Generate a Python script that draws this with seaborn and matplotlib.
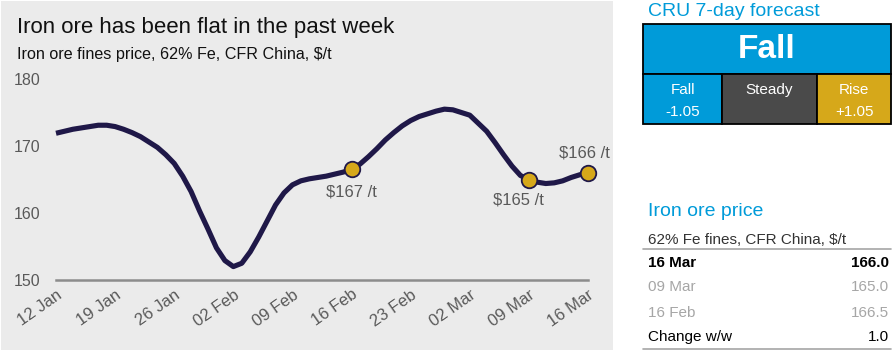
import matplotlib
matplotlib.use("Agg")
import matplotlib.pyplot as plt
from matplotlib.patches import Rectangle
import pandas as pd
import seaborn as sns

# ---- data ----
start_date = "2023-01-12"
prices = [171.9, 172.2, 172.5, 172.7, 172.9, 173.1, 173.1, 172.9, 172.5, 172.0,
          171.4, 170.6, 169.8, 168.7, 167.4, 165.5, 163.2, 160.3, 157.6, 154.8,
          152.9, 152.0, 152.5, 154.2, 156.4, 158.8, 161.2, 163.0, 164.2, 164.8,
          165.1, 165.3, 165.5, 165.8, 166.1, 166.5, 167.3, 168.4, 169.6, 170.9,
          172.0, 173.0, 173.8, 174.4, 174.8, 175.2, 175.5, 175.4, 175.0, 174.6,
          173.4, 172.2, 170.5, 168.7, 167.0, 165.6, 165.0, 164.6, 164.4, 164.5,
          164.8, 165.3, 165.7, 166.0]

marker_dates = ["2023-02-16", "2023-03-09", "2023-03-16"]
marker_prices = [166.5, 165.0, 166.0]
marker_labels = ["$167 /t", "$165 /t", "$166 /t"]

tick_dates = ["2023-01-12", "2023-01-19", "2023-01-26", "2023-02-02", "2023-02-09",
              "2023-02-16", "2023-02-23", "2023-03-02", "2023-03-09", "2023-03-16"]
tick_labels = ["12 Jan", "19 Jan", "26 Jan", "02 Feb", "09 Feb",
               "16 Feb", "23 Feb", "02 Mar", "09 Mar", "16 Mar"]
y_ticks = [150, 160, 170, 180]

forecast_cells = ["Fall", "Steady", "Rise"]
forecast_values = ["-1.05", "", "+1.05"]
forecast_call = "Fall"

table_rows = ["16 Mar", "09 Mar", "16 Feb", "Change w/w"]
table_vals = ["166.0", "165.0", "166.5", "1.0"]

# ---- style ----
sns.set_theme(style="white")
plt.rcParams['font.family'] = ['Liberation Sans', 'DejaVu Sans']

W, H = 893, 359
fig = plt.figure(figsize=(W / 100, H / 100), dpi=100)
fig.patch.set_facecolor("white")

def fx(px):
    return px / W

def fy(py):
    return 1 - py / H

NAVY = "#1f1848"
GOLD = "#d6a81a"
BLUE = "#009bd9"
DGREY = "#4a4a4a"
TGREY = "#595959"

# grey panel background
fig.patches.append(Rectangle((fx(1), fy(350)), fx(612), 349 / H, transform=fig.transFigure,
                             facecolor="#ebebeb", edgecolor="none", zorder=-5))

fig.text(fx(17), fy(27), "Iron ore has been flat in the past week", fontsize=16,
         color="#111111", va="center", ha="left")
fig.text(fx(17), fy(55), "Iron ore fines price, 62% Fe, CFR China, $/t", fontsize=11.6,
         color="#111111", va="center", ha="left")

# main axes
ax = fig.add_axes([fx(56), fy(280), fx(588 - 56), (280 - 79) / H])
ax.set_zorder(2)
ax.set_facecolor("none")
df = pd.DataFrame({"date": pd.date_range(start_date, periods=len(prices), freq="D"),
                   "price": prices})
mdf = pd.DataFrame({"date": pd.to_datetime(marker_dates), "price": marker_prices})
sns.lineplot(data=df, x="date", y="price", ax=ax, color=NAVY, linewidth=3.7,
             solid_capstyle="butt", solid_joinstyle="round", zorder=3)
sns.scatterplot(data=mdf, x="date", y="price", ax=ax, color=GOLD, s=125,
                edgecolor=NAVY, linewidth=1.3, zorder=4, clip_on=False)
for l in ax.lines:
    l.set_clip_on(False)

ax.set_xlim(pd.Timestamp(tick_dates[0]), pd.Timestamp(tick_dates[-1]))
ax.set_ylim(150, 180)
ax.set_yticks(y_ticks)
ax.set_yticklabels([str(v) for v in y_ticks])
ax.set_xticks(pd.to_datetime(tick_dates))
ax.set_xticklabels(tick_labels, rotation=35, ha="right", rotation_mode="anchor")
ax.tick_params(axis="y", length=0, pad=11, labelsize=11.5, labelcolor=TGREY)
ax.tick_params(axis="x", length=0, pad=5, labelsize=12, labelcolor=TGREY)
ax.set_xlabel("")
ax.set_ylabel("")
for s in ["top", "right", "left"]:
    ax.spines[s].set_visible(False)
ax.spines["bottom"].set_color("#8c8c8c")
ax.spines["bottom"].set_linewidth(1.8)
ax.grid(False)

offsets = [(0, -23), (-10, -21), (-4, 20)]
for d, p, lab, (dx, dy) in zip(mdf["date"], marker_prices, marker_labels, offsets):
    ax.annotate(lab, (d, p), xytext=(dx * 0.72, dy * 0.72), textcoords="offset points",
                ha="center", va="center", fontsize=12, color=TGREY)

# ---- right panel: forecast box ----
fig.text(fx(648), fy(12), "CRU 7-day forecast", fontsize=14, color=BLUE, va="center", ha="left")
bx0, bx1, by0, bmid, by1 = 643, 891, 24, 74, 124
cell_x = [643, 722, 817, 891]
cell_colors = [BLUE, DGREY, GOLD]

def frect(x0, y0, x1, y1, fc):
    fig.patches.append(Rectangle((fx(x0), fy(y1)), fx(x1 - x0), (y1 - y0) / H,
                                 transform=fig.transFigure, facecolor=fc,
                                 edgecolor="black", linewidth=1.3, zorder=2))

frect(bx0, by0, bx1, bmid, BLUE)
fig.text(fx((bx0 + bx1) / 2), fy(50), forecast_call, fontsize=24, fontweight="bold",
         color="white", ha="center", va="center")
for i, (name, val) in enumerate(zip(forecast_cells, forecast_values)):
    frect(cell_x[i], bmid, cell_x[i + 1], by1, cell_colors[i])
    cx = (cell_x[i] + cell_x[i + 1]) / 2
    fig.text(fx(cx), fy(90), name, fontsize=11, color="white", ha="center", va="center")
    if val:
        fig.text(fx(cx), fy(112), val, fontsize=11, color="white", ha="center", va="center")

# ---- right panel: price table ----
fig.text(fx(648), fy(212), "Iron ore price", fontsize=14, color=BLUE, va="center", ha="left")
fig.text(fx(648), fy(240), "62% Fe fines, CFR China, $/t", fontsize=11, color="#333333",
         va="center", ha="left")
fig.add_artist(plt.Line2D([fx(643), fx(891)], [fy(249), fy(249)], color="#a6a6a6", linewidth=1.2))
fig.add_artist(plt.Line2D([fx(643), fx(891)], [fy(349), fy(349)], color="#a6a6a6", linewidth=1.2))
row_y = [263, 287, 313, 337]
row_style = [("black", "bold"), ("#a6a6a6", "normal"), ("#a6a6a6", "normal"), ("black", "normal")]
for name, val, yy, (col, wt) in zip(table_rows, table_vals, row_y, row_style):
    fig.text(fx(648), fy(yy), name, fontsize=11, color=col, fontweight=wt, ha="left", va="center")
    fig.text(fx(889), fy(yy), val, fontsize=11, color=col, fontweight=wt, ha="right", va="center")

fig.savefig("out.png", dpi=100, facecolor=fig.get_facecolor())
